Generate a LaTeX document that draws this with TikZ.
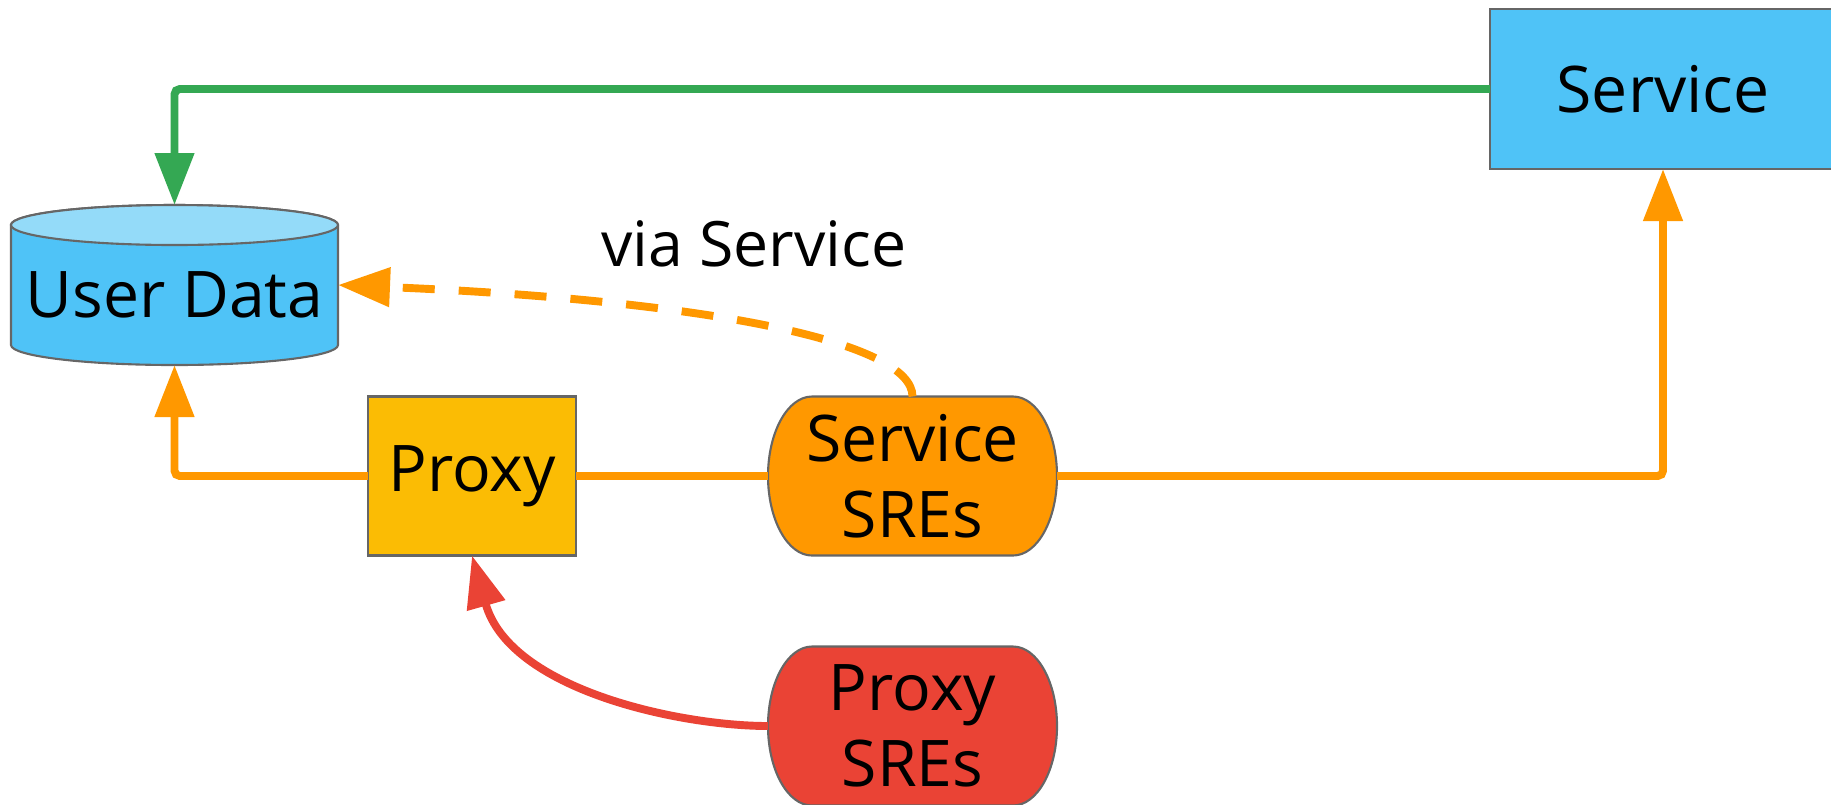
\documentclass[tikz,border=0pt]{standalone}
\usepackage{tikz}
\usepackage{xcolor}
\usepackage{fontspec}
\setmainfont{Open Sans}
\usetikzlibrary{calc}
\usetikzlibrary{arrows.meta}
\usetikzlibrary{backgrounds}

\definecolor{bleu}{HTML}{4FC3F7}
\definecolor{bleuclair}{HTML}{94DBF9}
\definecolor{jaune}{HTML}{FBBC04}
\definecolor{orangesre}{HTML}{FF9800}
\definecolor{rouge}{HTML}{EA4335}
\definecolor{vert}{HTML}{34A853}
\definecolor{bord}{HTML}{666666}

\begin{document}
\begin{tikzpicture}

\tikzset{
    box/.style = {
    minimum height=1.59cm,
    outer sep=0pt,
    align=center,
    font=\fontsize{18.3}{21.5}\selectfont
    }
}

\tikzstyle{donnees}=[box, minimum width=3.27cm, minimum height=1.6cm, text height=0.66cm]
\tikzstyle{serveur}=[draw=bord, line width=0.6pt, fill=bleu, box, minimum width=3.46cm, minimum height=1.6cm]
\tikzstyle{relais}=[draw=bord, line width=0.6pt, fill=jaune, box, minimum width=2.08cm]
\tikzstyle{equipe}=[box, minimum width=2.89cm]
\tikzstyle{contour}=[draw=bord, line width=0.6pt]
\tikzstyle{lien}=[line width=2.25pt, rounded corners=1.5pt]
\tikzstyle{fleche}=[lien, -{Triangle[length=0.52cm, width=0.38cm]}]

\useasboundingbox (0,0) rectangle (18.31,8.04);

\node (data) [donnees] at (1.745,5.19) {User Data};
\node (svc) [serveur] at (16.63,7.15) {Service};
\node (proxy) [relais] at (4.72,3.28) {Proxy};
\node (svc-sre) [equipe] at (9.125,3.28) {Service\\SREs};
\node (proxy-sre) [equipe] at (9.125,0.78) {Proxy\\SREs};

\begin{scope}[on background layer]
% cylindre
\draw[contour, fill=bleu]
    ([yshift=-0.2cm]data.north west) -- ([yshift=0.2cm]data.south west)
    arc[start angle=180, end angle=360, x radius=1.635cm, y radius=0.2cm]
    -- ([yshift=-0.2cm]data.north east)
    arc[start angle=0, end angle=180, x radius=1.635cm, y radius=0.2cm] -- cycle;
\draw[contour, fill=bleuclair]
    ([yshift=-0.2cm]data.north) ellipse[x radius=1.635cm, y radius=0.2cm];
% pastilles
\foreach \n/\c in {svc-sre/orangesre, proxy-sre/rouge}
    \draw[contour, fill=\c]
    ([xshift=0.44cm]\n.north west) -- ([xshift=-0.44cm]\n.north east)
    arc[start angle=90, end angle=-90, x radius=0.44cm, y radius=0.795cm]
    -- ([xshift=0.44cm]\n.south west)
    arc[start angle=270, end angle=90, x radius=0.44cm, y radius=0.795cm] -- cycle;
\end{scope}

\draw[fleche, vert] (svc.west) -| (data.north);
\draw[lien, orangesre] (svc-sre.west) -- (proxy.east);
\draw[fleche, orangesre] (proxy.west) -| (data.south);
\draw[fleche, orangesre] (svc-sre.east) -| (svc.south);
\draw[fleche, orangesre, dash pattern=on 0.32cm off 0.24cm]
    (svc-sre.north) .. controls ([yshift=0.56cm]svc-sre.north) and (7.0,5.04) .. (data.east);
\draw[fleche, rouge] (proxy-sre.west) .. controls (6.8,0.78) and (5.1,1.14) .. (proxy.south);

\node (via) at (7.54,5.60) {\fontsize{17.8}{21}\selectfont via Service};

\end{tikzpicture}
\end{document}
